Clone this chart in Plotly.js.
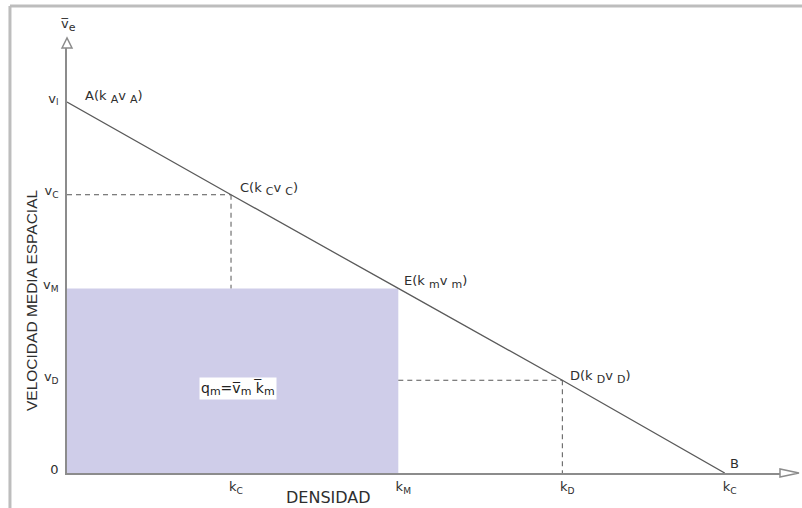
<!DOCTYPE html>
<html>
<head>
<meta charset="utf-8">
<script src="https://cdn.plot.ly/plotly-3.0.1.min.js"></script>
<style>
html,body{margin:0;padding:0;background:#fff;}
#chart{width:802px;height:508px;}
</style>
</head>
<body>
<div id="chart"></div>
<script>
// ---- data ----
const pointNames = ['A', 'C', 'E', 'D', 'B'];
const densidad   = [0, 1.0, 2.02, 3.02, 4.01];   // k
const velocidad  = [4.0, 3.0, 1.99, 1.0, 0];     // v
const sub = s => '<sub><span style="font-size:11px">' + s + '</span></sub>';
const pointLabels = [
  'A(k ' + sub('A') + 'v ' + sub('A') + ')',
  'C(k ' + sub('C') + 'v ' + sub('C') + ')',
  'E(k ' + sub('m') + 'v ' + sub('m') + ')',
  'D(k ' + sub('D') + 'v ' + sub('D') + ')',
  'B'
];
const yTickText = ['0', 'v<sub>D</sub>', 'v<sub>M</sub>', 'v<sub>C</sub>', 'v<sub>l</sub>'];
const xTickText = ['k<sub>C</sub>', 'k<sub>M</sub>', 'k<sub>D</sub>', 'k<sub>C</sub>'];
const xTitle = 'DENSIDAD';
const yTitle = 'VELOCIDAD MEDIA ESPACIAL';
const axisLabelV = 'v\u0305' + sub('e');
const flowLabel = 'q' + sub('m') + '=v\u0305' + sub('m') + ' k\u0305' + sub('m');

// ---- derived ----
const kC = densidad[1], vC = velocidad[1];
const kM = densidad[2], vM = velocidad[2];
const kD = densidad[3], vD = velocidad[3];
const kB = densidad[4], vA = velocidad[0];

const FONT = 'DejaVu Sans, Liberation Sans, Arial, sans-serif';
const TXT = '#2e2e2e';
const AX = '#8c8c8c';
const DASH = '#555555';

const traces = [
  // flow rectangle
  {x:[0, kM, kM, 0, 0], y:[0, 0, vM, vM, 0], mode:'lines', fill:'toself',
   fillcolor:'#cfcde9', line:{width:0, color:'#cfcde9'}, hoverinfo:'skip'},
  // dashed guides
  {x:[0, kC], y:[vC, vC], mode:'lines', line:{color:DASH, width:1, dash:'5px,4px'}},
  {x:[kC, kC], y:[vC, vM], mode:'lines', line:{color:DASH, width:1, dash:'5px,4px'}},
  {x:[kM, kD], y:[vD, vD], mode:'lines', line:{color:DASH, width:1, dash:'5px,4px'}},
  {x:[kD, kD], y:[vD, 0], mode:'lines', line:{color:DASH, width:1, dash:'5px,4px'}},
  // speed-density line
  {x:densidad, y:velocidad, mode:'lines', line:{color:'#5a5a5a', width:1.3}, cliponaxis:false}
];

const labelOffsets = [
  {dx:16, dy:5}, {dx:7, dy:6}, {dx:4, dy:6}, {dx:6, dy:3}, {dx:3, dy:10}
];
const annotations = pointNames.map((n, i) => ({
  x: densidad[i], y: velocidad[i], xref:'x', yref:'y',
  text: pointLabels[i], showarrow:false,
  xanchor:'left', yanchor:'middle',
  xshift: labelOffsets[i].dx, yshift: labelOffsets[i].dy,
  font:{family:FONT, size:13, color:TXT}
}));
annotations.push({
  x:0, y:1, xref:'paper', yref:'paper', text:axisLabelV, showarrow:false,
  xanchor:'center', yanchor:'middle', xshift:1, yshift:18,
  font:{family:FONT, size:13, color:TXT}
});
annotations.push({
  x:1.04, y:0.91, xref:'x', yref:'y', text:flowLabel, showarrow:false,
  xanchor:'center', yanchor:'middle', bgcolor:'#ffffff', borderpad:1,
  font:{family:FONT, size:14, color:'#222'}
});
// axis titles
annotations.push({
  x:0.3615, y:-0.058, xref:'paper', yref:'paper', text:xTitle, showarrow:false,
  xanchor:'center', yanchor:'middle',
  font:{family:FONT, size:16, color:TXT}
});
annotations.push({
  x:-0.0499, y:0.4023, xref:'paper', yref:'paper', text:yTitle, showarrow:false,
  xanchor:'center', yanchor:'middle', textangle:-90,
  font:{family:'Liberation Sans, Arial, sans-serif', size:15.5, color:TXT}
});

const shapes = [
  // frame (top and left edges)
  {type:'line', xref:'paper', yref:'paper', x0:-0.079, x1:1.03, y0:1.086, y1:1.086,
   line:{color:'#bdbdbd', width:3}, layer:'above'},
  {type:'line', xref:'paper', yref:'paper', x0:-0.079, x1:-0.079, y0:1.086, y1:-0.1,
   line:{color:'#bdbdbd', width:3}, layer:'above'},
  // y arrowhead (open triangle)
  {type:'path', xref:'paper', yref:'paper',
   path:'M -0.006925,0.98837 L 0,1.01163 L 0.006925,0.98837 Z',
   fillcolor:'#ffffff', line:{color:AX, width:1.5}, layer:'above'},
  // x arrowhead (open triangle)
  {type:'path', xref:'paper', yref:'paper',
   path:'M 0.98753,-0.0093 L 1.01385,0 L 0.98753,0.0093 Z',
   fillcolor:'#ffffff', line:{color:AX, width:1.5}, layer:'above'}
];

const layout = {
  width:802, height:508, autosize:false,
  margin:{l:67, r:13, t:43, b:35, pad:0},
  paper_bgcolor:'#ffffff', plot_bgcolor:'#ffffff',
  showlegend:false,
  xaxis:{range:[0, 4.402], showgrid:false, zeroline:false, showline:true,
    linecolor:AX, linewidth:1.8, layer:'below traces',
    tickmode:'array', tickvals:[kC, kM, kD, kB], ticktext:xTickText,
    ticks:'', ticklabelshift:5, ticklabelstandoff:1,
    tickfont:{family:FONT, size:13, color:TXT}},
  yaxis:{range:[0, 4.636], showgrid:false, zeroline:false, showline:true,
    linecolor:AX, linewidth:1.8, layer:'below traces',
    tickmode:'array', tickvals:[0, vD, vM, vC, vA], ticktext:yTickText,
    ticks:'', ticklabelshift:-4, ticklabelstandoff:4,
    tickfont:{family:FONT, size:13, color:TXT}},
  annotations: annotations,
  shapes: shapes
};

Plotly.newPlot('chart', traces, layout, {staticPlot:true, displayModeBar:false});
</script>
</body>
</html>
